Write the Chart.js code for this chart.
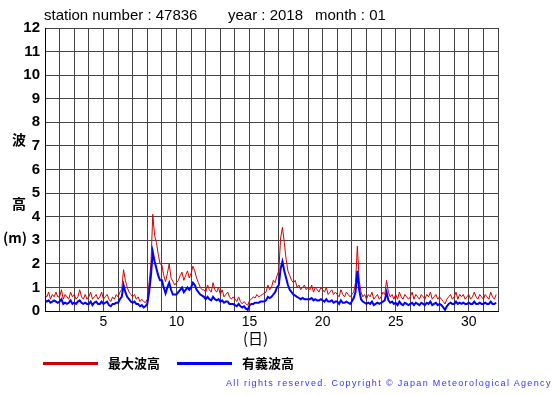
<!DOCTYPE html>
<html>
<head>
<meta charset="utf-8">
<script src="https://cdn.jsdelivr.net/npm/chart.js@4"></script>
<style>
  body { margin: 0; background: #fff; }
  #wrap { position: relative; width: 555px; height: 395px; font-family: "Liberation Sans", Arial, sans-serif; }
  #c { position: absolute; left: 0; top: 0; }
  .lbl { position: absolute; white-space: pre; color: #000; line-height: 1; }
</style>
</head>
<body>
<div id="wrap">
  <canvas id="c" width="555" height="395"></canvas>
  <div class="lbl" style="left:44px;top:7px;font-size:15px;">station number : 47836</div>
  <div class="lbl" style="left:228px;top:7px;font-size:15px;">year : 2018</div>
  <div class="lbl" style="left:315px;top:7px;font-size:15px;">month : 01</div>
  <div class="lbl" style="left:12px;top:132px;font-size:14px;font-weight:bold;font-family:'Noto Sans CJK JP';">波</div>
  <div class="lbl" style="left:12px;top:196px;font-size:14px;font-weight:bold;font-family:'Noto Sans CJK JP';">高</div>
  <div class="lbl" style="left:3px;top:230px;font-size:14px;font-weight:bold;font-family:'Noto Sans CJK JP';">(m)</div>
  <div class="lbl" style="left:243px;top:330px;font-size:15px;font-family:'Noto Sans CJK JP';">(日)</div>
  <div style="position:absolute;left:43px;top:362px;width:55px;height:3px;background:#cc0000;"></div>
  <div class="lbl" style="left:108px;top:356px;font-size:13px;font-weight:bold;font-family:'Noto Sans CJK JP';">最大波高</div>
  <div style="position:absolute;left:177px;top:362px;width:55px;height:3px;background:#0000ff;"></div>
  <div class="lbl" style="left:242px;top:356px;font-size:13px;font-weight:bold;font-family:'Noto Sans CJK JP';">有義波高</div>
  <div class="lbl" style="left:226px;top:379px;font-size:9px;letter-spacing:1.35px;color:#3333ff;">All rights reserved. Copyright © Japan Meteorological Agency</div>
</div>
<script>
// 3-hourly values, 8 per day, days 1..31
const days = [1,2,3,4,5,6,7,8,9,10,11,12,13,14,15,16,17,18,19,20,21,22,23,24,25,26,27,28,29,30,31];

const maxWave = [
  [0.7,0.6,0.8,0.5,0.7,0.6,0.8,0.6],
  [0.6,0.9,0.5,0.7,0.6,0.5,0.8,0.6],
  [0.7,0.5,0.6,0.9,0.6,0.5,0.7,0.5],
  [0.6,0.8,0.5,0.6,0.7,0.5,0.6,0.8],
  [0.5,0.6,0.7,0.5,0.4,0.6,0.5,0.7],
  [0.6,0.8,0.9,1.75,1.3,1.0,0.8,0.7],
  [0.6,0.7,0.5,0.6,0.4,0.5,0.4,0.35],
  [0.5,1.2,2.0,4.1,3.2,2.9,2.4,2.0],
  [1.95,1.5,1.25,1.6,2.0,1.4,1.25,1.1],
  [1.2,1.3,1.5,1.65,1.3,1.5,1.7,1.4],
  [1.6,1.9,1.7,1.4,1.2,1.0,0.9,0.9],
  [0.8,1.1,0.9,0.8,1.2,0.9,0.8,1.0],
  [0.7,0.9,0.6,0.7,0.8,0.6,0.5,0.6],
  [0.5,0.4,0.6,0.4,0.3,0.4,0.3,0.25],
  [0.45,0.5,0.6,0.55,0.7,0.6,0.65,0.7],
  [0.75,0.8,1.1,0.9,1.0,1.3,1.2,1.5],
  [1.7,3.1,3.55,2.9,2.2,1.7,1.5,1.3],
  [1.2,1.3,1.0,1.1,0.9,1.0,1.1,0.9],
  [1.0,0.9,1.1,0.8,1.0,0.9,0.8,1.0],
  [0.9,0.8,1.0,0.7,0.8,0.9,0.7,0.8],
  [0.7,0.6,0.9,0.7,0.6,0.8,0.7,0.6],
  [0.7,0.8,1.2,2.75,1.3,0.8,0.6,0.7],
  [0.5,0.7,0.6,0.8,0.5,0.6,0.7,0.5],
  [0.6,0.8,0.7,1.3,0.8,0.6,0.7,0.5],
  [0.7,0.5,0.8,0.6,0.5,0.7,0.6,0.5],
  [0.6,0.8,0.5,0.7,0.6,0.5,0.7,0.6],
  [0.5,0.7,0.6,0.8,0.5,0.6,0.7,0.5],
  [0.6,0.5,0.4,0.3,0.5,0.6,0.7,0.5],
  [0.6,0.8,0.5,0.7,0.6,0.7,0.5,0.6],
  [0.7,0.5,0.6,0.8,0.6,0.5,0.7,0.6],
  [0.5,0.7,0.6,0.5,0.8,0.6,0.5,0.7]
];

const sigWave = [
  [0.45,0.4,0.45,0.35,0.4,0.45,0.4,0.35],
  [0.4,0.5,0.3,0.35,0.3,0.35,0.45,0.3],
  [0.35,0.3,0.4,0.45,0.35,0.3,0.35,0.3],
  [0.3,0.4,0.25,0.35,0.4,0.3,0.3,0.4],
  [0.3,0.35,0.4,0.25,0.2,0.3,0.3,0.35],
  [0.35,0.5,0.6,1.1,0.8,0.6,0.5,0.4],
  [0.35,0.4,0.3,0.3,0.2,0.25,0.15,0.2],
  [0.3,0.8,1.5,2.5,2.1,1.8,1.5,1.3],
  [1.3,1.0,0.75,1.0,1.2,0.9,0.7,0.7],
  [0.7,0.8,0.9,1.0,0.8,0.9,1.0,0.9],
  [1.0,1.2,1.1,0.9,0.8,0.7,0.65,0.6],
  [0.5,0.6,0.5,0.45,0.6,0.5,0.45,0.5],
  [0.4,0.45,0.35,0.4,0.4,0.3,0.3,0.3],
  [0.25,0.2,0.3,0.2,0.15,0.2,0.1,0.05],
  [0.25,0.3,0.3,0.35,0.35,0.35,0.4,0.4],
  [0.4,0.45,0.6,0.55,0.6,0.7,0.8,1.0],
  [1.1,1.8,2.1,1.7,1.4,1.1,0.9,0.8],
  [0.7,0.65,0.6,0.55,0.5,0.55,0.5,0.5],
  [0.5,0.5,0.55,0.45,0.5,0.45,0.45,0.5],
  [0.45,0.4,0.5,0.4,0.4,0.45,0.35,0.4],
  [0.4,0.3,0.45,0.35,0.35,0.4,0.35,0.3],
  [0.4,0.55,0.8,1.7,0.9,0.5,0.4,0.35],
  [0.3,0.35,0.3,0.4,0.25,0.3,0.35,0.3],
  [0.35,0.4,0.45,0.8,0.45,0.35,0.4,0.3],
  [0.35,0.25,0.4,0.3,0.25,0.35,0.3,0.25],
  [0.3,0.35,0.25,0.35,0.3,0.25,0.35,0.3],
  [0.25,0.35,0.3,0.4,0.25,0.3,0.35,0.25],
  [0.3,0.25,0.15,0.05,0.2,0.3,0.35,0.3],
  [0.3,0.4,0.3,0.35,0.3,0.35,0.3,0.3],
  [0.35,0.3,0.3,0.4,0.3,0.3,0.35,0.3],
  [0.3,0.35,0.3,0.3,0.4,0.3,0.3,0.35]
];

const yTicks = [0,1,2,3,4,5,6,7,8,9,10,11,12];
const xLabels = [5,10,15,20,25,30];

// turn day rows into {x,y} points (3 hour steps)
function toPoints(rows) {
  const pts = [];
  rows.forEach((row, d) => {
    row.forEach((v, k) => pts.push({ x: days[d] + k / row.length, y: v }));
  });
  return pts;
}

const ctx = document.getElementById('c').getContext('2d');
new Chart(ctx, {
  type: 'line',
  data: {
    datasets: [
      {
        label: '有義波高',
        data: toPoints(sigWave),
        borderColor: '#0000ff',
        borderWidth: 2,
        pointRadius: 0,
        tension: 0
      },
      {
        label: '最大波高',
        data: toPoints(maxWave),
        borderColor: '#d00000',
        borderWidth: 1,
        pointRadius: 0,
        tension: 0
      }
    ]
  },
  options: {
    responsive: false,
    animation: false,
    layout: { padding: { left: 0, right: 57, top: 28, bottom: 0 } },
    plugins: { legend: { display: false }, tooltip: { enabled: false } },
    scales: {
      x: {
        type: 'linear',
        min: 1,
        max: 32,
        afterFit: s => { s.height = 84; },
        afterBuildTicks: s => { s.ticks = []; for (let d = 1; d <= 32; d++) s.ticks.push({ value: d }); },
        ticks: {
          autoSkip: false,
          maxRotation: 0,
          padding: 3,
          color: '#000',
          font: { family: 'Liberation Sans', size: 14 },
          callback: v => xLabels.includes(v) ? String(v) : ''
        },
        grid: { color: '#444', lineWidth: 1, drawTicks: false },
        border: { color: '#000', width: 1 }
      },
      y: {
        min: 0,
        max: 12,
        afterFit: s => { s.width = 45; },
        afterBuildTicks: s => { s.ticks = yTicks.map(v => ({ value: v })); },
        ticks: {
          padding: 5,
          color: '#000',
          font: { family: 'Liberation Sans', size: 15, weight: 'bold' }
        },
        grid: { color: '#444', lineWidth: 1, drawTicks: false },
        border: { color: '#000', width: 1 }
      }
    }
  }
});
</script>
</body>
</html>
